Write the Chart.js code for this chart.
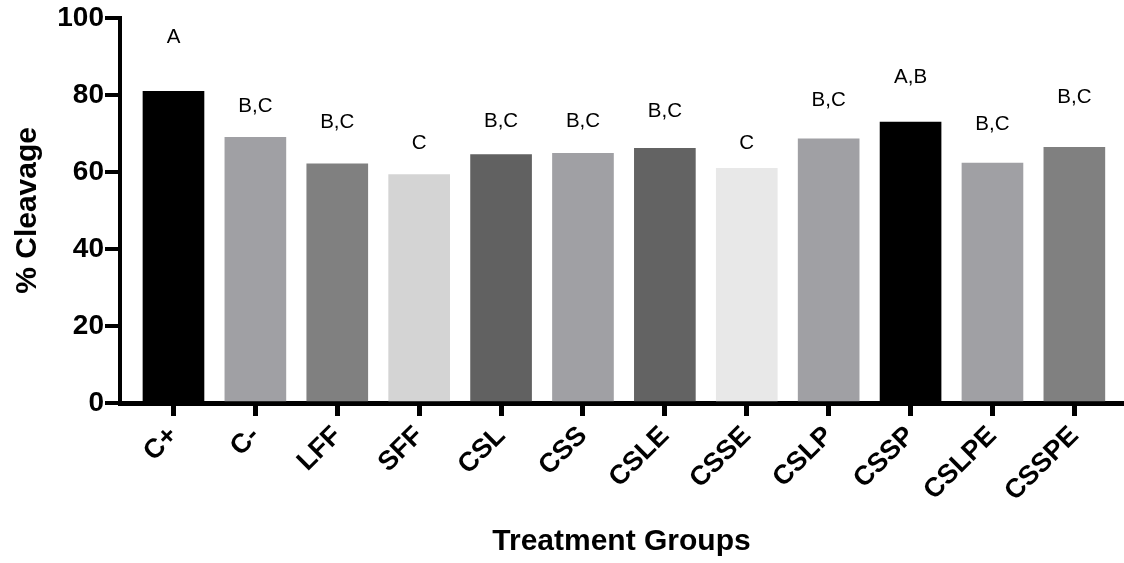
<!DOCTYPE html>
<html>
<head>
<meta charset="utf-8">
<script src="https://cdn.jsdelivr.net/npm/chart.js@4/dist/chart.umd.min.js"></script>
<style>
  html, body { margin: 0; padding: 0; background: #fff; }
</style>
</head>
<body>
<canvas id="c" width="1124" height="563"></canvas>
<script>
// Treatment groups and mean cleavage rate (%)
const groups = ['C+', 'C-', 'LFF', 'SFF', 'CSL', 'CSS', 'CSLE', 'CSSE', 'CSLP', 'CSSP', 'CSLPE', 'CSSPE'];
const cleavage = [80.9, 69.0, 62.1, 59.3, 64.5, 64.8, 66.1, 60.9, 68.6, 72.9, 62.3, 66.4];

// Significance letters and the y level (in % units) where each one sits
const letters = ['A', 'B,C', 'B,C', 'C', 'B,C', 'B,C', 'B,C', 'C', 'B,C', 'A,B', 'B,C', 'B,C'];
const letterLevels = [94.8, 77.0, 72.9, 67.5, 73.1, 73.1, 75.7, 67.5, 78.7, 84.5, 72.4, 79.3];

const yTicks = [0, 20, 40, 60, 80, 100];

const barColors = ['#000000', '#a0a0a4', '#808080', '#d4d4d4', '#616161', '#a0a0a4',
                   '#636363', '#e8e8e8', '#a0a0a4', '#000000', '#a0a0a4', '#808080'];

const FAMILY = '"Liberation Sans", Arial, Helvetica, sans-serif';

const lettersPlugin = {
  id: 'letters',
  afterDatasetsDraw(chart) {
    const { ctx, scales: { x, y } } = chart;
    ctx.save();
    ctx.font = '20.5px ' + FAMILY;
    ctx.fillStyle = '#000';
    ctx.textAlign = 'center';
    ctx.textBaseline = 'middle';
    letters.forEach((t, i) => {
      ctx.fillText(t, x.getPixelForValue(i), y.getPixelForValue(letterLevels[i]));
    });
    ctx.restore();
  }
};

new Chart(document.getElementById('c'), {
  type: 'bar',
  data: {
    datasets: [{
      data: groups.map((g, i) => ({ x: i, y: cleavage[i] })),
      backgroundColor: barColors,
      borderWidth: 0,
      barThickness: 61
    }]
  },
  options: {
    responsive: false,
    animation: false,
    devicePixelRatio: 1,
    layout: { padding: { top: 16, right: 1, left: 0, bottom: 0 } },
    plugins: { legend: { display: false }, tooltip: { enabled: false } },
    scales: {
      x: {
        type: 'linear',
        offset: false,
        min: -0.653,
        max: 11.594,
        z: 1,
        afterBuildTicks: s => { s.ticks = groups.map((g, i) => ({ value: i })); },
        afterFit: s => { s.height = 160; },
        ticks: {
          callback: v => groups[v],
          autoSkip: false,
          minRotation: 45,
          maxRotation: 45,
          padding: 4,
          color: '#000',
          font: { family: FAMILY, size: 27, weight: 'bold' }
        },
        grid: { display: true, offset: false, drawOnChartArea: false, drawTicks: true, tickLength: 13, lineWidth: 5, color: '#000' },
        border: { display: true, width: 5, color: '#000' },
        title: {
          display: true,
          text: 'Treatment Groups',
          color: '#000',
          font: { family: FAMILY, size: 30, weight: 'bold' },
          padding: { top: 0, bottom: 3 }
        }
      },
      y: {
        min: 0,
        max: 100,
        z: 1,
        afterBuildTicks: s => { s.ticks = yTicks.map(v => ({ value: v })); },
        afterFit: s => { s.width = 120; },
        ticks: {
          padding: 1,
          color: '#000',
          font: { family: FAMILY, size: 28, weight: 'bold' }
        },
        grid: { display: true, drawOnChartArea: false, drawTicks: true, tickLength: 15, lineWidth: 4, color: '#000' },
        border: { display: true, width: 4, color: '#000' },
        title: {
          display: true,
          text: '% Cleavage',
          color: '#000',
          font: { family: FAMILY, size: 30, weight: 'bold' },
          padding: { top: 10, bottom: 0 }
        }
      }
    }
  },
  plugins: [lettersPlugin]
});
</script>
</body>
</html>
